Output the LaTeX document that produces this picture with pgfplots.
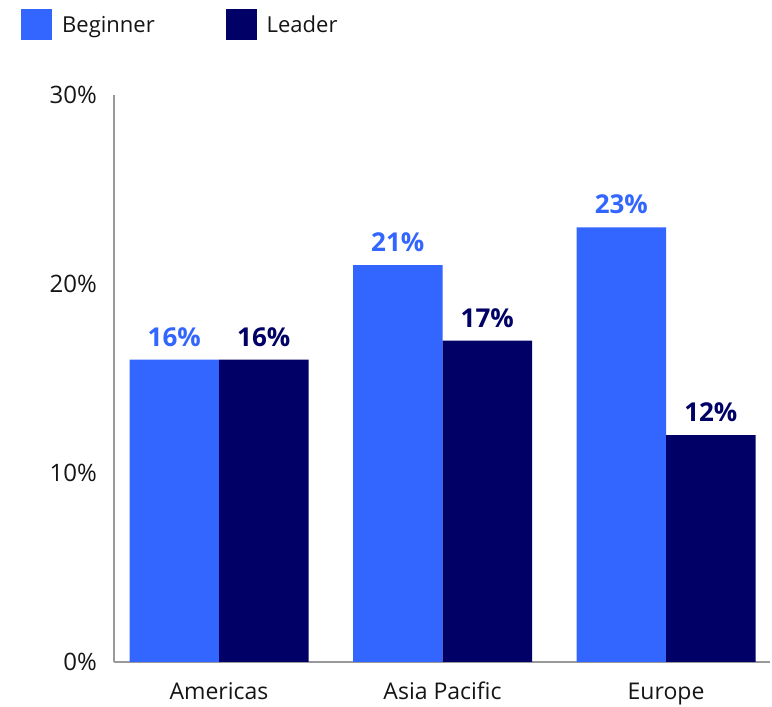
\documentclass[border=0pt]{standalone}
\usepackage{fontspec}
\setmainfont{Open Sans}
\usepackage{pgfplots}
\pgfplotsset{compat=1.18}
\definecolor{beginner}{HTML}{3366FF}
\definecolor{leader}{HTML}{000066}
\definecolor{axisgray}{HTML}{999999}
\definecolor{txt}{HTML}{151515}
\begin{document}
\begin{tikzpicture}
\begin{axis}[
  at={(0pt,0pt)}, anchor=south west,
  scale only axis, width=656pt, height=567pt,
  ymin=0, ymax=30, xmin=-0.4698, xmax=2.465,
  axis x line=bottom, axis y line=left,
  axis line style={draw=axisgray, line width=1.3pt, -},
  major tick length=0pt,
  /pgf/number format/assume math mode=true,
  ytick={0,10,20,30}, yticklabels={0\%,10\%,20\%,30\%},
  xtick={0,1,2}, xticklabels={Americas,Asia Pacific,Europe},
  yticklabel style={anchor=east, inner sep=0pt, xshift=-17pt, font=\fontsize{24}{24}\selectfont, text=txt},
  xticklabel style={anchor=base, inner sep=0pt, yshift=-38pt, font=\fontsize{23}{23}\selectfont, text=txt},
  ybar=0pt, bar width=89.5pt,
  nodes near coords={\pgfmathprintnumber[assume math mode=true]{\pgfplotspointmeta}\%},
  legend columns=2,
  legend style={at={(axis description cs:-0.1418,1.1517)}, anchor=north west, draw=none, fill=none, inner sep=0pt,
    font=\fontsize{22}{22}\selectfont, text=txt, cells={anchor=west},
    /tikz/every odd column/.append style={column sep=8pt},
    /tikz/every even column/.append style={column sep=69pt}},
]
\addplot[fill=beginner, draw=none,
  legend image code/.code={\fill[beginner] (0pt,-15.5pt) rectangle (31pt,15.5pt);},
  every node near coord/.append style={anchor=base, inner sep=0pt, yshift=13.5pt, text=beginner, font=\bfseries\fontsize{26}{26}\selectfont}]
  coordinates {(0,16) (1,21) (2,23)};
\addplot[fill=leader, draw=none,
  legend image code/.code={\fill[leader] (0pt,-15.5pt) rectangle (31pt,15.5pt);},
  every node near coord/.append style={anchor=base, inner sep=0pt, yshift=13.5pt, text=leader, font=\bfseries\fontsize{26}{26}\selectfont}]
  coordinates {(0,16) (1,17) (2,12)};
\legend{Beginner,Leader}
\end{axis}
\pgfresetboundingbox
\useasboundingbox (-114pt,-45pt) rectangle (658pt,662pt);
\end{tikzpicture}
\end{document}
